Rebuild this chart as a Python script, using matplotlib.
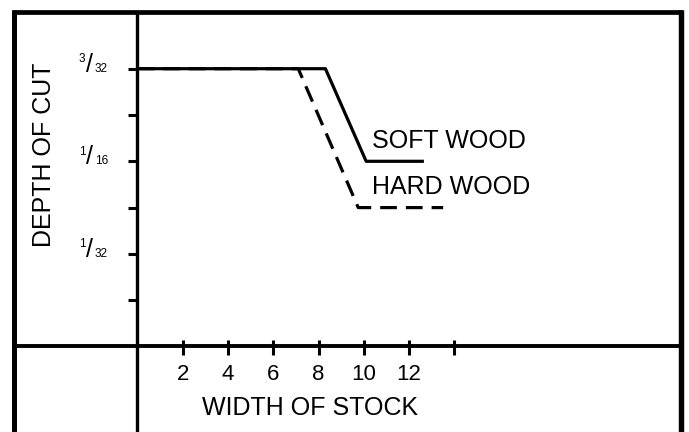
import matplotlib.pyplot as plt
from matplotlib.lines import Line2D

plt.rcParams['font.family'] = ['Liberation Sans', 'DejaVu Sans']
plt.rcParams['lines.scale_dashes'] = False

# === DATA ===
soft_x = [0, 8.3, 10.1, 12.65]
soft_y = [3/32, 3/32, 1/16, 1/16]
hard_x = [0, 7.1, 9.75, 13.5]
hard_y = [3/32, 3/32, 3/64, 3/64]

x_ticks = [2, 4, 6, 8, 10, 12, 14]
x_tick_labels = ['2', '4', '6', '8', '10', '12', '']
y_ticks = [1/64, 2/64, 3/64, 4/64, 5/64, 6/64]
y_label_vals = [1/32, 1/16, 3/32]
y_label_num = ['1', '1', '3']
y_label_den = ['32', '16', '32']

# === LAYOUT (pixels) ===
W, H = 689, 432
def fx(x):
    return x / W
def fy(y):
    return 1 - y / H

x0, y0 = 137.5, 346.5      # data origin in px
right, top = 680.5, 12.3
px_per_x = 22.64
px_per_64th = 46.3

fig = plt.figure(figsize=(W / 100, H / 100), dpi=100)
ax = fig.add_axes([fx(x0), fy(y0), (right - x0) / W, (y0 - top) / H])
ax.set_facecolor('none')
for s in ax.spines.values():
    s.set_visible(False)
ax.set_xlim(0, (right - x0) / px_per_x)
ax.set_ylim(0, (y0 - top) / px_per_64th / 64)

ax.plot(hard_x, hard_y, color='black', lw=2.3, dashes=(12, 6.5),
        dash_capstyle='butt')
ax.plot(soft_x, soft_y, color='black', lw=2.3, solid_capstyle='butt')

ax.set_xticks(x_ticks)
ax.set_xticklabels(x_tick_labels)
ax.set_yticks(y_ticks)
ax.tick_params(axis='x', direction='inout', length=10.8, width=2.2,
               labelsize=16, pad=7)
ax.tick_params(axis='y', direction='out', length=7.2, width=2.2,
               labelleft=False)

# fraction tick labels
for v, num, den in zip(y_label_vals, y_label_num, y_label_den):
    ax.annotate(num, (0, v), xytext=(-40, 4.7), textcoords='offset points',
                ha='center', va='baseline', fontsize=8.5)
    ax.annotate('/', (0, v), xytext=(-34.9, -2.2), textcoords='offset points',
                ha='center', va='baseline', fontsize=18)
    ax.annotate(den, (0, v), xytext=(-26, -2.2), textcoords='offset points',
                ha='center', va='baseline', fontsize=8.5)

# curve and axis labels
fig.text(fx(372), fy(148), 'SOFT WOOD', fontsize=18, va='baseline')
fig.text(fx(372), fy(194), 'HARD WOOD', fontsize=18, va='baseline')
fig.text(fx(310.5), fy(415), 'WIDTH OF STOCK', fontsize=18,
         ha='center', va='baseline')
fig.text(fx(44), fy(155), 'DEPTH OF CUT', fontsize=18, rotation=90,
         ha='center', va='center')

# frame lines
def frame(xs, ys, lw):
    fig.add_artist(Line2D([fx(x) for x in xs], [fy(y) for y in ys], lw=lw,
                          color='black', transform=fig.transFigure,
                          solid_capstyle='butt'))

frame([11.5, 683.3], [12.3, 12.3], 3.4)
frame([14, 14], [10, 432], 3.6)
frame([680.5, 680.5], [10, 432], 3.9)
frame([136.8, 136.8], [12, 432], 2.4)
frame([14, 680.5], [345.5, 345.5], 2.8)

fig.savefig('out.png', dpi=100)
